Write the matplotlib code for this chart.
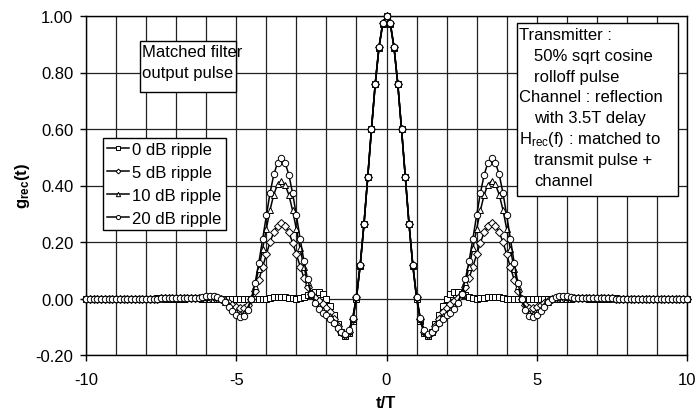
import numpy as np
import matplotlib
matplotlib.use('Agg')
import matplotlib.pyplot as plt
from matplotlib.patches import Rectangle
from matplotlib.ticker import MultipleLocator

# ---------------- data (t/T >= 0; curve is symmetric) -------------
step = 0.125   # sample spacing in t/T

g0_half = [  # 0 dB ripple
    1.000, 0.971, 0.887, 0.759, 0.600, 0.429, 0.263, 0.116,
    0.000, -0.080, -0.123, -0.133, -0.120, -0.092, -0.058, -0.025,
    0.000, 0.016, 0.023, 0.022, 0.017, 0.011, 0.005, 0.001,
    0.000, 0.001, 0.003, 0.005, 0.006, 0.006, 0.004, 0.002,
    0.000, -0.002, -0.003, -0.003, -0.003, -0.002, -0.001, 0.000,
    0.000, 0.000, -0.001, -0.001, -0.001, -0.001, -0.001, -0.001,
    0.000, 0.000, 0.001, 0.001, 0.001, 0.001, 0.000, 0.000,
    0.000, 0.000, 0.000, 0.000, 0.001, 0.001, 0.000, 0.000,
    0.000, 0.000, 0.000, 0.000, 0.000, 0.000, 0.000, 0.000,
    0.000, 0.000, 0.000, 0.000, 0.000, 0.000, 0.000, 0.000,
    0.000]

g5_half = [  # 5 dB ripple
    1.000, 0.974, 0.889, 0.760, 0.600, 0.429, 0.263, 0.118,
    0.004, -0.074, -0.117, -0.129, -0.120, -0.098, -0.073, -0.049,
    -0.032, -0.019, -0.009, 0.001, 0.017, 0.041, 0.073, 0.113,
    0.156, 0.198, 0.234, 0.257, 0.266, 0.258, 0.235, 0.200,
    0.156, 0.110, 0.066, 0.027, -0.003, -0.022, -0.033, -0.035,
    -0.031, -0.024, -0.016, -0.008, -0.001, 0.003, 0.005, 0.005,
    0.004, 0.003, 0.002, 0.001, 0.001, 0.001, 0.001, 0.001,
    0.002, 0.002, 0.001, 0.001, 0.001, 0.000, 0.000, -0.001,
    -0.001, -0.001, -0.001, -0.001, 0.000, 0.000, 0.000, 0.000,
    0.000, 0.000, 0.000, 0.000, 0.000, 0.000, 0.000, 0.000,
    0.000]

g10_half = [  # 10 dB ripple
    1.000, 0.975, 0.890, 0.760, 0.600, 0.429, 0.263, 0.119,
    0.006, -0.071, -0.114, -0.127, -0.120, -0.102, -0.082, -0.063,
    -0.050, -0.039, -0.028, -0.011, 0.017, 0.058, 0.113, 0.177,
    0.246, 0.312, 0.367, 0.403, 0.416, 0.404, 0.368, 0.314,
    0.246, 0.174, 0.105, 0.045, -0.003, -0.034, -0.051, -0.055,
    -0.049, -0.038, -0.024, -0.012, -0.001, 0.005, 0.008, 0.008,
    0.007, 0.005, 0.003, 0.001, 0.001, 0.001, 0.001, 0.002,
    0.002, 0.002, 0.002, 0.001, 0.001, 0.000, -0.001, -0.001,
    -0.001, -0.001, -0.001, -0.001, 0.000, 0.000, 0.000, -0.001,
    -0.001, -0.001, -0.001, 0.000, 0.000, 0.000, 0.000, 0.000,
    0.000]

g20_half = [  # 20 dB ripple
    1.000, 0.976, 0.891, 0.760, 0.600, 0.429, 0.263, 0.120,
    0.007, -0.070, -0.112, -0.126, -0.120, -0.104, -0.086, -0.071,
    -0.060, -0.050, -0.038, -0.017, 0.017, 0.068, 0.134, 0.212,
    0.295, 0.373, 0.438, 0.481, 0.496, 0.481, 0.439, 0.374,
    0.294, 0.209, 0.126, 0.054, -0.003, -0.041, -0.061, -0.066,
    -0.059, -0.045, -0.029, -0.014, -0.001, 0.006, 0.010, 0.010,
    0.008, 0.006, 0.003, 0.002, 0.001, 0.001, 0.002, 0.002,
    0.003, 0.003, 0.002, 0.002, 0.001, 0.000, -0.001, -0.001,
    -0.001, -0.001, -0.001, -0.001, 0.000, 0.000, 0.000, -0.001,
    -0.001, -0.001, -0.001, -0.001, 0.000, 0.000, 0.000, 0.000,
    0.000]

labels = ['0 dB ripple', '5 dB ripple', '10 dB ripple', '20 dB ripple']
x_ticks = [-10, -5, 0, 5, 10]
y_ticks = [-0.20, 0.00, 0.20, 0.40, 0.60, 0.80, 1.00]

box1_lines = ['Matched filter', 'output pulse']
box2_lines = [('Transmitter :', 0), ('50% sqrt cosine', 1), ('rolloff pulse', 1),
              ('Channel : reflection', 0), ('with 3.5T delay', 1),
              (r'H$_{\rm rec}$(f) : matched to', 0), ('transmit pulse +', 1),
              ('channel', 1)]

# ---------------- figure ---------------------------------------------------------------
plt.rcParams['font.family'] = ['Liberation Sans', 'DejaVu Sans']
plt.rcParams['mathtext.fontset'] = 'custom'
plt.rcParams['mathtext.rm'] = 'Liberation Sans'
plt.rcParams['mathtext.bf'] = 'Liberation Sans:bold'
plt.rcParams['mathtext.it'] = 'Liberation Sans:italic'
FS = 12

W, H = 698, 414
fig = plt.figure(figsize=(W / 100, H / 100), dpi=100)
fig.patch.set_facecolor('white')

def fx(px):
    return px / W

def fy(py):
    return 1 - py / H

ax = fig.add_axes([fx(86), fy(356), fx(687) - fx(86), fy(17) - fy(356)])

def mirror(v):
    v = np.asarray(v, dtype=float)
    return np.concatenate([v[:0:-1], v])

t_half = np.arange(len(g0_half)) * step
t = np.concatenate([-t_half[:0:-1], t_half])

series = [g0_half, g5_half, g10_half, g20_half]
markers = ['s', 'D', '^', 'o']
msizes = [4.2, 3.8, 4.8, 4.6]
handles = []
for vals, lab, m, ms in zip(series, labels, markers, msizes):
    h, = ax.plot(t, mirror(vals), color='black', lw=1.1, marker=m, ms=ms,
                 mfc='white', mec='black', mew=0.7, label=lab, clip_on=False,
                 zorder=3)
    handles.append(h)

ax.set_xlim(-10, 10)
ax.set_ylim(-0.2, 1.0)
ax.set_xticks(x_ticks)
ax.set_xticklabels([str(v) for v in x_ticks])
ax.xaxis.set_minor_locator(MultipleLocator(1))
ax.set_yticks(y_ticks)
ax.set_yticklabels([f'{v:.2f}' for v in y_ticks])
ax.tick_params(axis='both', which='major', direction='out', length=4, width=1,
               labelsize=FS, color='black')
ax.tick_params(axis='x', which='major', pad=8)
ax.tick_params(axis='y', which='major', pad=5)
ax.tick_params(which='minor', length=0)
ax.grid(which='both', axis='x', color='#222222', lw=0.9)
ax.grid(which='major', axis='y', color='#222222', lw=0.9)
ax.set_axisbelow(True)
for s in ax.spines.values():
    s.set_color('black')
    s.set_linewidth(1.0)

fig.text(fx(22), fy(186), r'g$_{\mathbf{rec}}$(t)', rotation=90, ha='center',
         va='center', fontsize=FS, fontweight='bold')
fig.text(fx(386), fy(404), 't/T', ha='center', va='center', fontsize=FS,
         fontweight='bold')

leg = ax.legend(handles=handles, loc='upper left',
                bbox_to_anchor=(fx(103), fy(139)), bbox_transform=fig.transFigure,
                fontsize=FS, frameon=True, fancybox=False, edgecolor='black',
                framealpha=1, borderaxespad=0, borderpad=0.25, labelspacing=0.47,
                handlelength=1.3, handletextpad=0.2, markerscale=0.65)
leg.get_frame().set_linewidth(1.0)
leg.set_zorder(5)

# text boxes
r1 = Rectangle((fx(140), fy(93)), fx(236) - fx(140), fy(42) - fy(93),
               transform=fig.transFigure, facecolor='white', edgecolor='black',
               lw=1.0, zorder=5)
fig.add_artist(r1)
for i, line in enumerate(box1_lines):
    fig.text(fx(142), fy(57 + 21 * i), line, ha='left', va='baseline',
             fontsize=FS, zorder=6)

r2 = Rectangle((fx(517), fy(197)), fx(678) - fx(517), fy(24) - fy(197),
               transform=fig.transFigure, facecolor='white', edgecolor='black',
               lw=1.0, zorder=5)
fig.add_artist(r2)
for i, (line, indent) in enumerate(box2_lines):
    fig.text(fx(519 + 15 * indent), fy(40 + 20.8 * i), line, ha='left',
             va='baseline', fontsize=FS, zorder=6)

fig.savefig('out.png', dpi=100, facecolor='white')
